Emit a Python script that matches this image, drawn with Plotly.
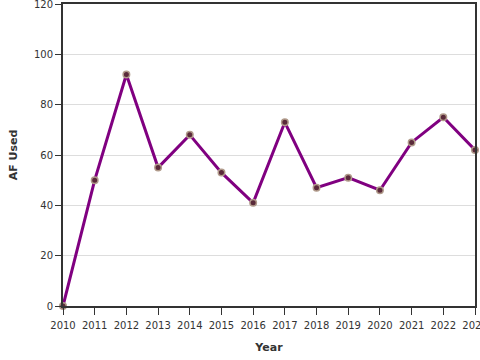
import plotly.graph_objects as go

years = [2010, 2011, 2012, 2013, 2014, 2015, 2016, 2017, 2018, 2019, 2020, 2021, 2022, 2023]
af_used = [0, 50, 92, 55, 68, 53, 41, 73, 47, 51, 46, 65, 75, 62]
x_ticks = list(range(2010, 2024))
y_ticks = [0, 20, 40, 60, 80, 100, 120]

fig = go.Figure()
fig.add_trace(go.Scatter(
    x=years, y=af_used, mode="lines+markers",
    line=dict(color="#800080", width=3),
    marker=dict(size=6.5, color="#5a2a3a", line=dict(color="#b09a8a", width=1.5)),
    cliponaxis=False,
))

font = dict(family="DejaVu Sans", size=10, color="#333333")
fig.update_layout(
    width=480, height=360,
    margin=dict(l=63, r=5, t=4, b=54),
    paper_bgcolor="white", plot_bgcolor="white",
    showlegend=False,
    font=font,
    xaxis=dict(
        range=[2010, 2023], tickvals=x_ticks, ticktext=[str(v) for v in x_ticks],
        showgrid=False, zeroline=False,
        showline=True, linecolor="#333333", linewidth=2, mirror=True,
        ticks="outside", ticklen=7, tickcolor="#333333",
        ticklabelstandoff=2,
        ticklabeloverflow="allow",
        title=dict(text="<b>Year</b>", font=dict(family="DejaVu Sans", size=11, color="#333333"), standoff=13),
        automargin=False,
    ),
    yaxis=dict(
        range=[0, 120], tickvals=y_ticks,
        showgrid=True, gridcolor="#dddddd", gridwidth=1, zeroline=False,
        showline=True, linecolor="#333333", linewidth=2, mirror=True,
        ticks="outside", ticklen=6, tickcolor="#333333",
        ticklabeloverflow="allow",
        title=dict(text="<b>AF Used</b>", font=dict(family="DejaVu Sans", size=11, color="#333333"), standoff=14),
        automargin=False,
    ),
)
fig.write_html("out.html", config={"displayModeBar": False},
               post_script="document.body.style.margin='0';document.body.style.padding='0';")
